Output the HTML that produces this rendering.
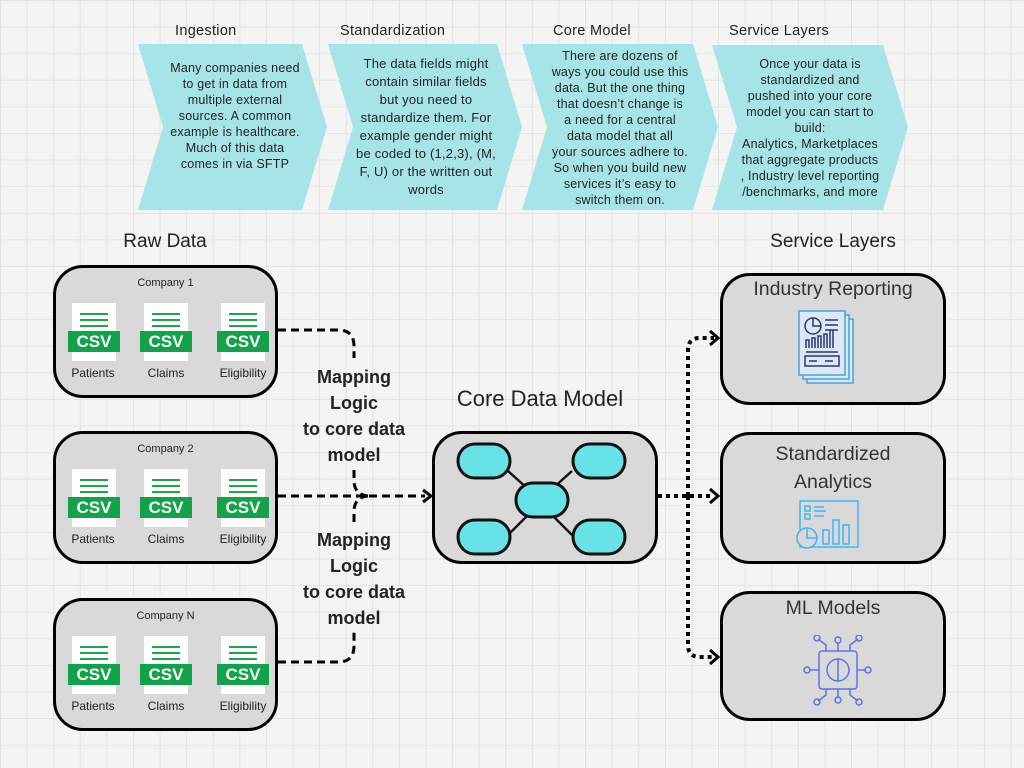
<!DOCTYPE html>
<html><head><meta charset="utf-8"><style>
body{margin:0;width:1024px;height:768px;overflow:hidden;background-color:#f4f4f4;
background-image:linear-gradient(#e3e3e3 1px,transparent 1px),linear-gradient(90deg,#e3e3e3 1px,transparent 1px);background-size:26.6px 26.6px;font-family:"Liberation Sans",sans-serif;position:relative;color:#222}
.a{position:absolute}
.t{position:absolute;text-align:center;white-space:nowrap}
.box{position:absolute;background:#d9d9d9;border:3px solid #000;border-radius:30px;box-sizing:border-box}
.csv{position:absolute;width:52px;height:58px}
.csv .d{position:absolute;left:4px;top:0;width:44px;height:58px;background:#fff}
.csv .l{position:absolute;left:12px;width:28px;height:2px;background:#1aa64a}
.csv .g{position:absolute;left:0;top:28px;width:52px;height:21px;background:#12a34a;color:#fff;font-weight:bold;font-size:17px;text-align:center;line-height:21px}
.lab{position:absolute;font-size:12px;width:80px;text-align:center}
.ch{position:absolute;font-size:12.5px;line-height:16px;text-align:center;color:#222;white-space:nowrap;letter-spacing:0.2px}
.hd{position:absolute;font-size:14.5px;color:#222;letter-spacing:0.3px}
</style></head><body>
<svg class="a" style="left:0;top:0" width="1024" height="768">
<polygon points="138,44 302,44 327,127 302,210 138,210 163,127" fill="#a6e4e8"/>
<polygon points="328,44 497,44 522,127 497,210 328,210 353,127" fill="#a6e4e8"/>
<polygon points="522,44 693,44 718,127 693,210 522,210 547,127" fill="#a6e4e8"/>
<polygon points="712,45 883,45 908,127 883,210 712,210 737,127" fill="#a6e4e8"/>
<g fill="none" stroke="#000" stroke-width="3" stroke-dasharray="8,5">
<path d="M278,330 H338 Q354,330 354,346 V358"/>
<path d="M278,496 H425"/>
<path d="M354,470 V480 Q354,496 370,496"/>
<path d="M354,522 V512 Q354,496 370,496"/>
<path d="M278,662 H338 Q354,662 354,646 V632"/>
</g>
<path d="M423,490 L431,496 L423,502" fill="none" stroke="#000" stroke-width="3"/>
<g fill="none" stroke="#000" stroke-width="4" stroke-dasharray="4,4">
<path d="M658,496 H714"/>
<path d="M688,496 V350 Q688,338 700,338 H714"/>
<path d="M688,496 V645 Q688,657 700,657 H714"/>
</g>
<g fill="none" stroke="#000" stroke-width="3">
<path d="M710,331 L718,338 L710,345"/><path d="M710,489 L718,496 L710,503"/><path d="M710,650 L718,657 L710,664"/>
</g>
</svg>
<div class="hd" style="left:175px;top:23px">Ingestion</div>
<div class="hd" style="left:340px;top:23px">Standardization</div>
<div class="hd" style="left:553px;top:23px">Core Model</div>
<div class="hd" style="left:729px;top:23px">Service Layers</div>
<div class="ch" style="left:160px;top:60px;width:150px">Many companies need<br>to get in data from<br>multiple external<br>sources. A common<br>example is healthcare.<br>Much of this data<br>comes in via SFTP</div>
<div class="ch" style="left:350px;top:55px;width:152px;font-size:13px;line-height:18px">The data fields might<br>contain similar fields<br>but you need to<br>standardize them. For<br>example gender might<br>be coded to (1,2,3), (M,<br>F, U) or the written out<br>words</div>
<div class="ch" style="left:546px;top:48px;width:148px">There are dozens of<br>ways you could use this<br>data. But the one thing<br>that doesn’t change is<br>a need for a central<br>data model that all<br>your sources adhere to.<br>So when you build new<br>services it’s easy to<br>switch them on.</div>
<div class="ch" style="left:734px;top:56px;width:152px">Once your data is<br>standardized and<br>pushed into your core<br>model you can start to<br>build:<br>Analytics, Marketplaces<br>that aggregate products<br>, Industry level reporting<br>/benchmarks, and more</div>

<div class="t" style="left:105px;top:231px;width:120px;font-size:19px">Raw Data</div>
<div class="t" style="left:733px;top:231px;width:200px;font-size:19px">Service Layers</div>

<div class="box" style="left:53px;top:265px;width:225px;height:133px"></div>
<div class="box" style="left:53px;top:431px;width:225px;height:133px"></div>
<div class="box" style="left:53px;top:598px;width:225px;height:133px"></div>

<div class="t" style="left:53px;top:277px;width:225px;font-size:11px">Company 1</div>
<div class="t" style="left:53px;top:443px;width:225px;font-size:11px">Company 2</div>
<div class="t" style="left:53px;top:610px;width:225px;font-size:11px">Company N</div>

<div class="csv" style="left:68px;top:303px"><div class="d"></div><div class="l" style="top:10px"></div><div class="l" style="top:16px"></div><div class="l" style="top:22px"></div><div class="g">CSV</div></div>
<div class="csv" style="left:140px;top:303px"><div class="d"></div><div class="l" style="top:10px"></div><div class="l" style="top:16px"></div><div class="l" style="top:22px"></div><div class="g">CSV</div></div>
<div class="csv" style="left:217px;top:303px"><div class="d"></div><div class="l" style="top:10px"></div><div class="l" style="top:16px"></div><div class="l" style="top:22px"></div><div class="g">CSV</div></div>
<div class="lab" style="left:53px;top:366px">Patients</div><div class="lab" style="left:126px;top:366px">Claims</div><div class="lab" style="left:203px;top:366px">Eligibility</div>
<div class="csv" style="left:68px;top:469px"><div class="d"></div><div class="l" style="top:10px"></div><div class="l" style="top:16px"></div><div class="l" style="top:22px"></div><div class="g">CSV</div></div>
<div class="csv" style="left:140px;top:469px"><div class="d"></div><div class="l" style="top:10px"></div><div class="l" style="top:16px"></div><div class="l" style="top:22px"></div><div class="g">CSV</div></div>
<div class="csv" style="left:217px;top:469px"><div class="d"></div><div class="l" style="top:10px"></div><div class="l" style="top:16px"></div><div class="l" style="top:22px"></div><div class="g">CSV</div></div>
<div class="lab" style="left:53px;top:532px">Patients</div><div class="lab" style="left:126px;top:532px">Claims</div><div class="lab" style="left:203px;top:532px">Eligibility</div>
<div class="csv" style="left:68px;top:636px"><div class="d"></div><div class="l" style="top:10px"></div><div class="l" style="top:16px"></div><div class="l" style="top:22px"></div><div class="g">CSV</div></div>
<div class="csv" style="left:140px;top:636px"><div class="d"></div><div class="l" style="top:10px"></div><div class="l" style="top:16px"></div><div class="l" style="top:22px"></div><div class="g">CSV</div></div>
<div class="csv" style="left:217px;top:636px"><div class="d"></div><div class="l" style="top:10px"></div><div class="l" style="top:16px"></div><div class="l" style="top:22px"></div><div class="g">CSV</div></div>
<div class="lab" style="left:53px;top:699px">Patients</div><div class="lab" style="left:126px;top:699px">Claims</div><div class="lab" style="left:203px;top:699px">Eligibility</div>

<div class="t" style="left:284px;top:364px;width:140px;font-size:18px;font-weight:bold;line-height:26px">Mapping<br>Logic<br>to core data<br>model</div>
<div class="t" style="left:284px;top:527px;width:140px;font-size:18px;font-weight:bold;line-height:26px">Mapping<br>Logic<br>to core data<br>model</div>

<div class="t" style="left:422px;top:386px;width:236px;font-size:22px">Core Data Model</div>
<div class="box" style="left:432px;top:431px;width:226px;height:133px"></div>
<svg class="a" style="left:432px;top:431px" width="226" height="133">
<g stroke="#111" stroke-width="2.5"><line x1="76" y1="40" x2="96" y2="58"/><line x1="140" y1="40" x2="120" y2="58"/><line x1="76" y1="104" x2="96" y2="84"/><line x1="140" y1="104" x2="120" y2="84"/></g>
<g fill="#67e3e8" stroke="#111" stroke-width="3">
<rect x="26" y="13" width="52" height="34" rx="17"/><rect x="141" y="13" width="52" height="34" rx="17"/>
<rect x="84" y="52" width="52" height="34" rx="17"/>
<rect x="26" y="89" width="52" height="34" rx="17"/><rect x="141" y="89" width="52" height="34" rx="17"/>
</g></svg>

<div class="box" style="left:720px;top:273px;width:226px;height:132px"></div>
<div class="box" style="left:720px;top:432px;width:226px;height:132px"></div>
<div class="box" style="left:720px;top:591px;width:226px;height:130px"></div>
<div class="t" style="left:720px;top:278px;width:226px;font-size:19.5px;color:#333">Industry Reporting</div>
<div class="t" style="left:720px;top:440px;width:226px;font-size:19.5px;line-height:28px;color:#333">Standardized<br>Analytics</div>
<div class="t" style="left:720px;top:597px;width:226px;font-size:19.5px;color:#333">ML Models</div>

<svg class="a" style="left:798px;top:310px" width="70" height="76">
<rect x="9" y="9" width="46" height="64" fill="#dde8f5" stroke="#4aa0e0" stroke-width="1.5"/>
<rect x="5" y="5" width="46" height="64" fill="#dde8f5" stroke="#4aa0e0" stroke-width="1.5"/>
<rect x="1" y="1" width="46" height="64" fill="#dde8f5" stroke="#4aa0e0" stroke-width="1.5"/>
<g stroke="#2c3470" stroke-width="1.5" fill="none"><circle cx="15" cy="16" r="8"/><path d="M15,8 V16 H23"/><path d="M27,10H40M27,15H40M27,20H40M8,42H40M8,38V30h3v8M14,38V28h3v10M20,38V26h3v12M26,38V24h3v14M32,38V20h3v18"/><rect x="7" y="46" width="34" height="10"/><path d="M11,51h8M27,51h8"/></g>
</svg>
<svg class="a" style="left:793px;top:500px" width="70" height="50">
<rect x="7" y="1" width="58" height="46" fill="none" stroke="#41b6f5" stroke-width="1.5"/>
<g stroke="#41b6f5" stroke-width="1.5" fill="none"><rect x="12" y="6" width="5" height="5"/><rect x="12" y="14" width="5" height="5"/><path d="M21,7h10M21,11h12M21,16h10"/><circle cx="14" cy="38" r="10" fill="#d9d9d9"/><path d="M14,28V38H24"/><rect x="30" y="30" width="6" height="14"/><rect x="40" y="20" width="6" height="24"/><rect x="50" y="25" width="6" height="19"/></g>
</svg>
<svg class="a" style="left:800px;top:635px" width="72" height="72">
<g stroke="#5a74ea" stroke-width="1.5" fill="none">
<rect x="19" y="16" width="38" height="38" rx="3"/><circle cx="38" cy="35" r="11"/><path d="M38,24V46"/>
<path d="M38,16V8M26,16V10L18,4M50,16V10L58,4M38,54V62M26,54V60L18,66M50,54V60L58,66M19,35H10M57,35H66"/>
<circle cx="38" cy="5" r="3"/><circle cx="17" cy="3" r="3"/><circle cx="59" cy="3" r="3"/><circle cx="38" cy="65" r="3"/><circle cx="17" cy="67" r="3"/><circle cx="59" cy="67" r="3"/><circle cx="7" cy="35" r="3"/><circle cx="68" cy="35" r="3"/>
</g></svg>
</body></html>
